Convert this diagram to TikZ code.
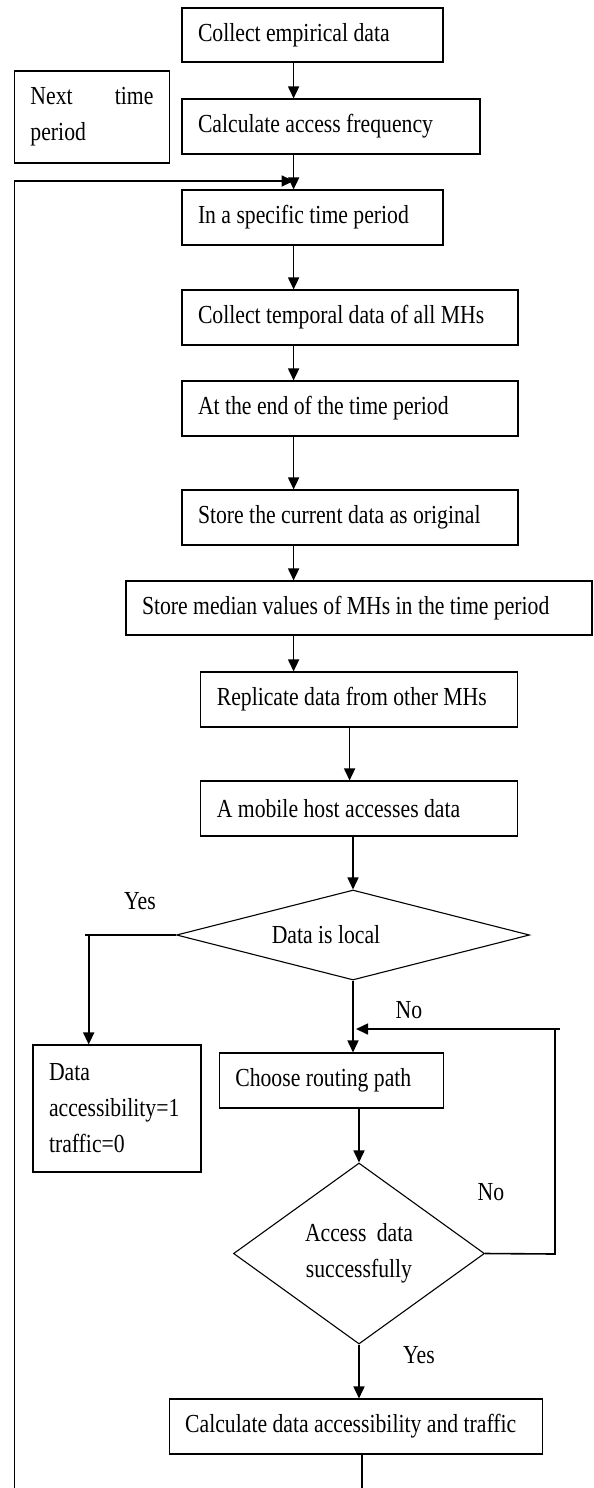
\documentclass[tikz,border=0pt]{standalone}
\usepackage{fontspec}
\setmainfont{Liberation Serif}[FakeStretch=0.835]
\usetikzlibrary{shapes.geometric,arrows.meta}
\newcommand\nodespacing{\spaceskip=5.4pt plus 6pt minus 1.5pt\relax\hyphenpenalty=10000\relax}
\begin{document}
\begin{tikzpicture}[x=1pt,y=-1pt,
  every node/.style={font=\fontsize{26pt}{36pt}\selectfont,execute at begin node=\nodespacing},
  procbox/.style={draw,line width=1.1pt,rectangle,inner xsep=16pt,inner ysep=0pt,align=left},
  decbox/.style={draw,line width=1.1pt,diamond,inner sep=0pt,align=center},
  conn/.style={line width=1.6pt},
  arr/.style={conn,-{Triangle[length=12pt,width=11pt]}},
  lbl/.style={inner sep=0pt}]
\useasboundingbox (0,0) rectangle (594,1488);

% process boxes
\node[procbox,text width=229pt,minimum height=54pt] (e1) at (312.5,35) {Collect empirical data};
\node[procbox,text width=266pt,minimum height=55pt] (e2) at (331,126.5) {Calculate access frequency};
\node[procbox,text width=123pt,minimum height=92pt] (nt) at (92,117) {\makebox[123pt][s]{Next time}\\period};
\node[procbox,text width=229pt,minimum height=55pt] (e3) at (312.5,217.5) {In a specific time period};
\node[procbox,text width=304pt,minimum height=55pt] (e4) at (350,317.5) {Collect temporal data of all MHs};
\node[procbox,text width=304pt,minimum height=55pt] (e5) at (350,408.5) {At the end of the time period};
\node[procbox,text width=304pt,minimum height=55pt] (e6) at (350,517.5) {Store the current data as original};
\node[procbox,text width=434pt,minimum height=54pt] (e7) at (359,608) {Store median values of MHs in the time period};
\node[procbox,text width=285pt,minimum height=55pt] (e8) at (359.3,699.5) {Replicate data from other MHs};
\node[procbox,text width=285pt,minimum height=55pt] (e9) at (359.3,808.5) {A mobile host accesses data};
\node[decbox,minimum width=353pt,minimum height=90pt,aspect=3.9] (d1) at (353,935) {Data is local\kern54pt};
\node[procbox,text width=136pt,minimum height=127pt] (db) at (117,1108.5) {Data\\accessibility=1\\traffic=0};
\node[procbox,text width=192pt,minimum height=55pt] (e10) at (331.3,1080.5) {Choose routing path};
\node[decbox,minimum width=251pt,minimum height=181pt,aspect=1.39] (d2) at (359,1253.5) {\makebox[108pt][s]{Access data}\\successfully};
\node[procbox,text width=341pt,minimum height=55pt] (e11) at (355.7,1426.5) {Calculate data accessibility and traffic};

% labels
\node[lbl] (yes1) at (140,901) {Yes};
\node[lbl] (no1) at (409,1010) {No};
\node[lbl] (no2) at (491,1192) {No};
\node[lbl] (yes2) at (419,1355) {Yes};

% helper coordinates
\coordinate (xa) at (293.6,0);
\coordinate (xb) at (349.6,0);
\coordinate (loopBL) at (14.5,1488);
\coordinate (loopTL) at (14.5,181);
\coordinate (loopJ) at (293.6,181);
\coordinate (ybL) at (84.5,935);
\coordinate (ybX) at (88.7,935);
\coordinate (fbR) at (555,1254);
\coordinate (fbRT) at (555,1029);
\coordinate (fbT) at (560,1029);
\coordinate (fbJ) at (356,1029);
\coordinate (endB) at (362,1488);

% main chain
\draw[arr] (e1.south -| xa) -- (e2.north -| xa);
\draw[arr] (e2.south -| xa) -- (e3.north -| xa);
\draw[arr] (e3.south -| xa) -- (e4.north -| xa);
\draw[arr] (e4.south -| xa) -- (e5.north -| xa);
\draw[arr] (e5.south -| xa) -- (e6.north -| xa);
\draw[arr] (e6.south -| xa) -- (e7.north -| xa);
\draw[arr] (e7.south -| xa) -- (e8.north -| xa);
\draw[arr] (e8.south -| xb) -- (e9.north -| xb);
\draw[arr] (e9.south -| d1.north) -- (d1.north);
\draw[arr] (d1.south) -- (d1.south |- e10.north);
\draw[arr] (e10.south -| d2.north) -- (d2.north);
\draw[arr] (d2.south) -- (d2.south |- e11.north);
\draw[conn] (e11.south -| endB) -- (endB);

% loop back to the next time period
\draw[arr] (loopBL) -- (loopTL) -- (loopJ);

% yes branch of Data is local
\draw[conn] (d1.west) -- (ybL);
\draw[arr] (ybX) -- (ybX |- db.north);

% no branch of Access data successfully
\draw[conn] (d2.east) -- (fbR) -- (fbRT);
\draw[arr] (fbT) -- (fbJ);
\end{tikzpicture}
\end{document}
